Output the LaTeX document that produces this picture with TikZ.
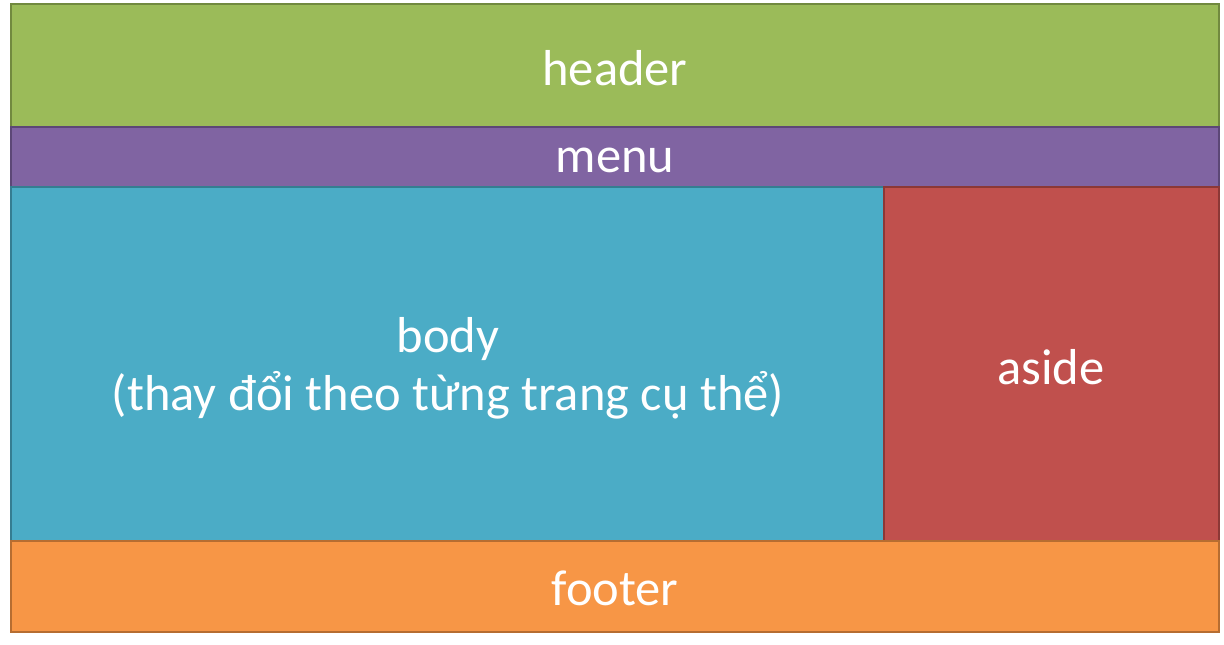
\documentclass[tikz,border=0pt]{standalone}
\usepackage{fontspec}
\setmainfont{Carlito}
\definecolor{hdr}{HTML}{9BBB59}
\definecolor{hdrb}{HTML}{71893F}
\definecolor{mnu}{HTML}{8064A2}
\definecolor{mnub}{HTML}{5C4776}
\definecolor{bdy}{HTML}{4BACC6}
\definecolor{bdyb}{HTML}{357D91}
\definecolor{asd}{HTML}{C0504D}
\definecolor{asdb}{HTML}{8C3836}
\definecolor{ftr}{HTML}{F79646}
\definecolor{ftrb}{HTML}{B66D31}
\tikzset{
  blk/.style={line width=2.5pt, text=white, font=\fontsize{50.5}{58}\selectfont, align=center, inner sep=0pt}
}
\begin{document}
\begin{tikzpicture}[x=1pt,y=-1pt]
\useasboundingbox (0,0) rectangle (1224,645);
\draw[blk, fill=hdr, draw=hdrb] (11,4) rectangle (1219,127);
\node[blk] (header) at (615,68) {header};
\draw[blk, fill=mnu, draw=mnub] (11,127) rectangle (1219,187);
\node[blk] (menu) at (615,160) {menu};
\draw[blk, fill=bdy, draw=bdyb] (11,187) rectangle (884,541);
\node[blk] (body) at (448,368) {body\\(thay đổi theo từng trang cụ thể)};
\draw[blk, fill=asd, draw=asdb] (884,187) rectangle (1219,541);
\node[blk] (aside) at (1051,367) {aside};
\draw[blk, fill=ftr, draw=ftrb] (11,541) rectangle (1219,632);
\node[blk] (footer) at (615,588) {footer};
\end{tikzpicture}
\end{document}
